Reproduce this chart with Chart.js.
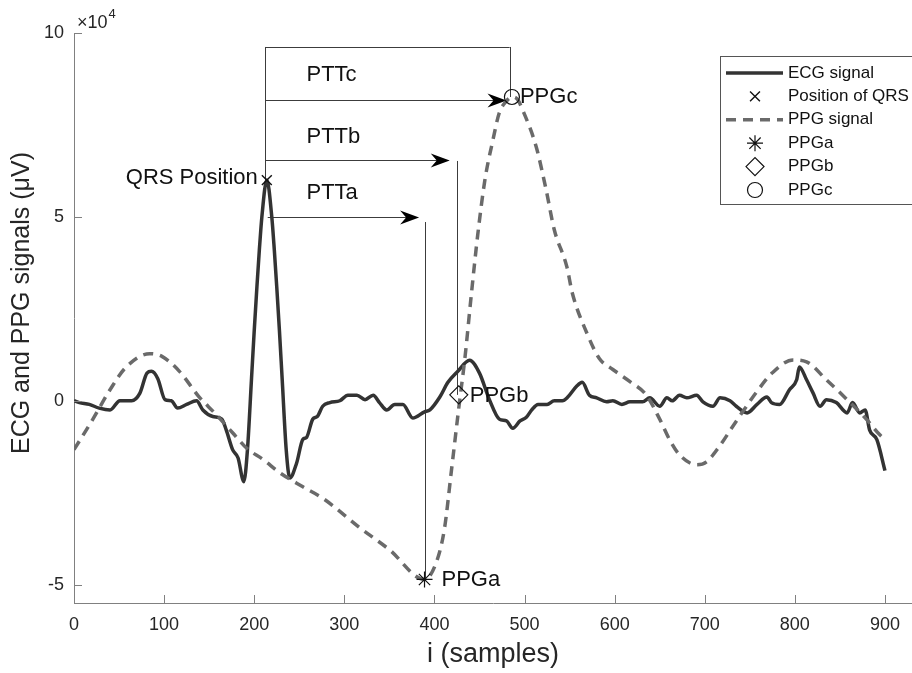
<!DOCTYPE html>
<html><head><meta charset="utf-8">
<script src="https://cdn.jsdelivr.net/npm/chart.js@4.4.0/dist/chart.umd.min.js"></script>
<style>html,body{margin:0;padding:0;background:#fff}#wrap{width:912px;height:673px}</style>
</head><body><div id="wrap"><canvas id="c" width="912" height="673"></canvas></div>
<script>
// ---- data (μV vs sample index) ----
const ecgX = [0,6,17,28,40,51,64,73,81,86,93,101,108,115,125,136,143,154,164,169,176,182,188.5,192.5,197,200,203,205.7,208.5,214,219.5,222.3,225,228,231,235.5,239.5,247,254,258,265,270,276,284,295,304,314,323,332,339,347,356,365,376,389,395,406,415,426,439,450,461,472,480,487,495,502,508,515,525,533,542,548,558,564,572,580,591,598,608,617,631,639,650,658,664,672,680,691,698,709,717,728,735,747,758,769,774,783,794,802,805,813,820,828,835,846,858,864,872,878,883,891,900];
const ecgY = [0,-500,-1000,-2000,-2500,0,0,2000,7500,8000,6000,300,0,-2000,-1000,0,-2500,-4300,-5000,-8000,-13300,-15500,-22000,-13300,6000,19000,31000,41000,50000,60000,50000,41000,31000,19000,6000,-13300,-21000,-17000,-10500,-10000,-5000,-4300,-1500,-500,0,1500,1500,300,1500,-500,-2500,-1000,-1000,-4700,-3000,-2500,1000,5000,8000,11000,7500,300,-5000,-5500,-7500,-5500,-4500,-2500,-1000,-1000,0,0,1000,4000,5000,1500,800,-300,0,-1000,-300,-300,800,-1500,800,0,1500,800,1500,-300,-1500,800,0,-1500,-3300,-1000,1000,-500,-1000,3000,5700,9200,5700,2200,-1500,300,-500,-3300,-500,-3300,-2500,-8000,-10600,-19000];
const ppgX = [0,21,40,58,84,98,117,139,156,176,192,210,228,254,276,317,350,389,402,411,419,427,434,441,448,456,465,472,480,486,492,498,513,524,533,547,553,569,583,598,617,635,650,661,672,691,702,716,731,746,757,775,798,813,835,858,880,894,900];
const ppgY = [-13300,-5000,3000,9200,12800,12000,8000,1000,-3300,-8700,-13000,-16000,-19500,-23400,-26500,-34500,-40500,-48600,-44000,-35000,-18700,-2000,12000,29000,45000,60000,71000,78300,81500,82600,82000,79000,69000,57300,46500,36400,29300,18500,11500,8500,5200,1600,-5000,-10600,-14700,-17400,-16600,-12500,-7000,-1600,2200,7600,11100,10600,5700,300,-5200,-9200,-10500];
const qrsPoint = {x: 214, y: 60000};
const ppgaPoint = {x: 389, y: -48600};
const ppgbPoint = {x: 427, y: 1600};
const ppgcPoint = {x: 486, y: 82600};
const seriesLabels = ['ECG signal','Position of QRS','PPG signal','PPGa','PPGb','PPGc'];
const pointLabels = ['QRS Position','PPGa','PPGb','PPGc'];
const xTicks = [0,100,200,300,400,500,600,700,800,900];
const yTicks = [-50000,0,50000,100000];
const yTickLabels = ['-5','0','5','10'];
// PTT arrows: label, level, start, end (data units)
const pttNames = ['PTTa','PTTb','PTTc'];
const pttLevels = [50000,65500,81800];
const pttStarts = [215,212,212];
const pttEnds = [383,417,480];
const pttTextX = 258;
const pttTextY = [56500,71700,88600];
// guide segments [x0,y0,x1,y1]
const guideSegments = [
  [212,60000,212,96200],
  [212,96200,483.5,96200],
  [483.5,96200,483.5,82600],
  [424.6,65200,424.6,1600],
  [389,48600,389,-48600]
];

const FONT = "'Liberation Sans', Arial, Helvetica, sans-serif";
Chart.defaults.font.family = FONT;

function xy(xs, ys){ return xs.map((v,i)=>({x:v, y:ys[i]})); }

const annot = {
  id: 'annot',
  beforeDatasetsDraw(chart){
    const {ctx, scales:{x, y}} = chart;
    ctx.save();
    ctx.strokeStyle = '#3c3c3c'; ctx.lineWidth = 1;
    guideSegments.forEach(s=>{
      ctx.beginPath();
      const x0 = x.getPixelForValue(s[0]), y0 = y.getPixelForValue(s[1]);
      const x1 = x.getPixelForValue(s[2]), y1 = y.getPixelForValue(s[3]);
      const sx = (s[0]===s[2]) ? Math.round(x0)+0.5 : x0, ex = (s[0]===s[2]) ? Math.round(x1)+0.5 : x1;
      const sy = (s[1]===s[3]) ? Math.round(y0)+0.5 : y0, ey = (s[1]===s[3]) ? Math.round(y1)+0.5 : y1;
      ctx.moveTo(sx, sy); ctx.lineTo(ex, ey); ctx.stroke();
    });
    pttLevels.forEach((lv,i)=>{
      const yy = Math.round(y.getPixelForValue(lv))+0.5;
      const x0 = x.getPixelForValue(pttStarts[i]), x1 = x.getPixelForValue(pttEnds[i]);
      ctx.beginPath(); ctx.moveTo(x0, yy); ctx.lineTo(x1-12, yy); ctx.stroke();
      ctx.beginPath(); ctx.moveTo(x1, yy); ctx.lineTo(x1-19, yy-7); ctx.lineTo(x1-13, yy); ctx.lineTo(x1-19, yy+7); ctx.closePath();
      ctx.fillStyle = '#000'; ctx.fill();
    });
    ctx.restore();
  },
  afterDraw(chart){
    const {ctx, chartArea:a, scales:{x, y}} = chart;
    ctx.save();
    // inward ticks
    ctx.strokeStyle = '#808080'; ctx.lineWidth = 1;
    xTicks.forEach(v=>{ const p = Math.round(x.getPixelForValue(v))+0.5; ctx.beginPath(); ctx.moveTo(p, a.bottom); ctx.lineTo(p, a.bottom-8); ctx.stroke(); });
    yTicks.forEach(v=>{ const p = Math.round(y.getPixelForValue(v))+0.5; ctx.beginPath(); ctx.moveTo(a.left, p); ctx.lineTo(a.left+8, p); ctx.stroke(); });
    // exponent
    ctx.fillStyle = '#262626'; ctx.textAlign = 'left'; ctx.textBaseline = 'alphabetic';
    ctx.font = '18px ' + FONT; ctx.fillText('\u00d710', a.left+3, a.top-5);
    const w = ctx.measureText('\u00d710').width;
    ctx.font = '13px ' + FONT; ctx.fillText('4', a.left+4+w, a.top-15);
    // axis titles
    ctx.fillStyle = '#262626';
    ctx.font = '27px ' + FONT; ctx.textAlign = 'center'; ctx.textBaseline = 'middle';
    ctx.fillText('i (samples)', (a.left+a.right)/2, 655);
    ctx.font = '25px ' + FONT;
    ctx.save(); ctx.translate(22, 303); ctx.rotate(-Math.PI/2); ctx.fillText('ECG and PPG signals (\u03bcV)', 0, 0); ctx.restore();
    // point labels
    ctx.fillStyle = '#111'; ctx.font = '22px ' + FONT; ctx.textBaseline = 'middle';
    const pts = [qrsPoint, ppgaPoint, ppgbPoint, ppgcPoint];
    const offs = [[-9,-2,'right'],[17,0,'left'],[11,1,'left'],[8,0,'left']];
    pts.forEach((p,i)=>{ ctx.textAlign = offs[i][2]; ctx.fillText(pointLabels[i], x.getPixelForValue(p.x)+offs[i][0], y.getPixelForValue(p.y)+offs[i][1]); });
    ctx.textAlign = 'left';
    pttNames.forEach((n,i)=>{ ctx.fillText(n, x.getPixelForValue(pttTextX), y.getPixelForValue(pttTextY[i])); });
    // legend
    const L = 720.5, T = 56.5, B = 204.5;
    ctx.fillStyle = '#fff'; ctx.fillRect(L, T, 300, B-T);
    ctx.strokeStyle = '#555'; ctx.lineWidth = 1; ctx.strokeRect(L, T, 300, B-T);
    const order = [0,1,2,3,4,5];
    order.forEach((di,k)=>{
      const ds = chart.data.datasets[di];
      const ry = 73 + k*23.4;
      if (ds.showLine === false){
        ctx.strokeStyle = '#111'; ctx.fillStyle = 'rgba(0,0,0,0)'; ctx.lineWidth = ds.borderWidth;
        Chart.helpers.drawPoint(ctx, {pointStyle: ds.pointStyle, radius: ds.pointRadius, rotation: 0, borderWidth: ds.borderWidth}, 755, ry);
      } else {
        ctx.strokeStyle = ds.borderColor; ctx.lineWidth = ds.borderWidth; ctx.setLineDash(ds.borderDash || []);
        ctx.beginPath(); ctx.moveTo(726, ry); ctx.lineTo(783, ry); ctx.stroke(); ctx.setLineDash([]);
      }
      ctx.fillStyle = '#111'; ctx.font = '17px ' + FONT; ctx.textAlign = 'left'; ctx.textBaseline = 'middle';
      ctx.fillText(ds.label, 788, ry);
    });
    ctx.restore();
  }
};

new Chart(document.getElementById('c'), {
  type: 'line',
  data: {
    datasets: [
      {label: seriesLabels[0], data: xy(ecgX, ecgY), borderColor: '#333333', borderWidth: 3.5, pointRadius: 0, cubicInterpolationMode: 'monotone', order: 2},
      {label: seriesLabels[1], data: [qrsPoint], showLine: false, pointStyle: 'crossRot', pointRadius: 7, borderColor: '#111', pointBorderColor: '#111', pointBackgroundColor: 'rgba(0,0,0,0)', borderWidth: 1.4, pointBorderWidth: 1.4, order: 0},
      {label: seriesLabels[2], data: xy(ppgX, ppgY), borderColor: '#6a6a6a', borderWidth: 3.5, borderDash: [10,7], pointRadius: 0, cubicInterpolationMode: 'monotone', order: 1},
      {label: seriesLabels[3], data: [ppgaPoint], showLine: false, pointStyle: 'star', pointRadius: 8, borderColor: '#111', pointBorderColor: '#111', pointBackgroundColor: 'rgba(0,0,0,0)', borderWidth: 1.2, pointBorderWidth: 1.2, order: 0},
      {label: seriesLabels[4], data: [ppgbPoint], showLine: false, pointStyle: 'rectRot', pointRadius: 9, borderColor: '#111', pointBorderColor: '#111', pointBackgroundColor: 'rgba(0,0,0,0)', borderWidth: 1.2, pointBorderWidth: 1.2, order: 0},
      {label: seriesLabels[5], data: [ppgcPoint], showLine: false, pointStyle: 'circle', pointRadius: 7.5, borderColor: '#111', pointBorderColor: '#111', pointBackgroundColor: 'rgba(0,0,0,0)', borderWidth: 1.2, pointBorderWidth: 1.2, order: 0}
    ]
  },
  options: {
    responsive: false, animation: false, devicePixelRatio: 1,
    layout: {autoPadding: false, padding: {top: 33, right: 0, left: 0, bottom: 0}},
    plugins: {legend: {display: false}, tooltip: {enabled: false}},
    scales: {
      x: {type: 'linear', min: 0, max: 930, grid: {display: false, drawTicks: false, tickLength: 0}, border: {display: true, color: '#808080', width: 1},
          ticks: {color: '#262626', font: {size: 18}, padding: 11, autoSkip: false, maxRotation: 0},
          afterBuildTicks: s => { s.ticks = xTicks.map(v => ({value: v})); },
          afterFit: s => { s.height = 70; s.paddingRight = 0; s.paddingLeft = 0; }},
      y: {type: 'linear', min: -55000, max: 100000, grid: {display: false, drawTicks: false, tickLength: 0}, border: {display: true, color: '#808080', width: 1},
          ticks: {color: '#262626', font: {size: 18}, padding: 10, callback: (v) => { const i = yTicks.indexOf(v); return i >= 0 ? yTickLabels[i] : ''; }},
          afterBuildTicks: s => { s.ticks = yTicks.map(v => ({value: v})); },
          afterFit: s => { s.width = 74; s.paddingTop = 0; s.paddingBottom = 0; }}
    }
  },
  plugins: [annot]
});
</script></body></html>
